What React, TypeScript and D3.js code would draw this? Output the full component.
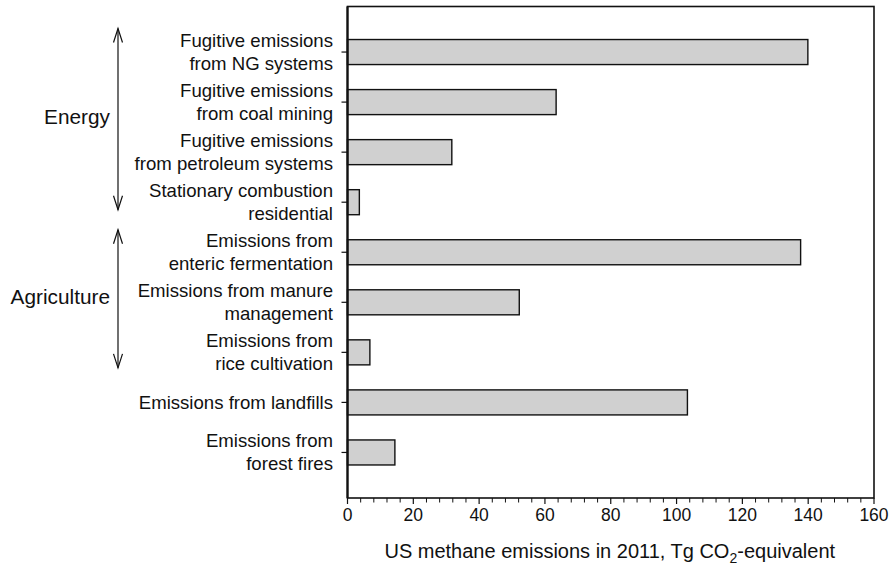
import React from "react";
import * as d3 from "d3";

const categoryLines: string[][] = [
  ["Fugitive emissions", "from NG systems"],
  ["Fugitive emissions", "from coal mining"],
  ["Fugitive emissions", "from petroleum systems"],
  ["Stationary combustion", "residential"],
  ["Emissions from", "enteric fermentation"],
  ["Emissions from manure", "management"],
  ["Emissions from", "rice cultivation"],
  ["Emissions from landfills"],
  ["Emissions from", "forest fires"],
];
const values: number[] = [139.9, 63.4, 31.7, 3.6, 137.7, 52.2, 6.8, 103.3, 14.4];
const xTicks: number[] = [0, 20, 40, 60, 80, 100, 120, 140, 160];
const groupNames: string[] = ["Energy", "Agriculture"];
const groupStart: number[] = [-0.47, 3.55];
const groupEnd: number[] = [3.15, 6.31];

const W = 894;
const H = 570;
const left = 347.5;
const right = 874;
const top = 6.5;
const bottom = 498;
const font = "Liberation Sans, Arial, Helvetica, sans-serif";

export default function App() {
  const ids = categoryLines.map((_, i) => i);
  const x = d3.scaleLinear().domain([0, 160]).range([left, right]);
  const y = d3
    .scaleBand<number>()
    .domain(ids)
    .range([top, bottom])
    .paddingInner(0.5)
    .paddingOuter(0.66);
  const bw = y.bandwidth();
  const step = y.step();
  const yc = (i: number) => (y(i) as number) + bw / 2;
  const yIdx = d3
    .scaleLinear()
    .domain([0, 1])
    .range([yc(0), yc(0) + step]);
  const minor = d3.range(0, 161, 4).filter((v) => v % 20 !== 0);
  const lineGap = 23;

  return (
    <svg
      width={W}
      height={H}
      style={{ position: "absolute", left: 0, top: 0, background: "#fff" }}
      fontFamily={font}
    >
      {/* bars */}
      {values.map((v, i) => (
        <rect
          key={i}
          x={x(0)}
          y={y(i)}
          width={x(v) - x(0)}
          height={bw}
          fill="#d0d0d0"
          stroke="#111"
          strokeWidth={1.4}
        />
      ))}
      {/* frame */}
      <rect
        x={left}
        y={top}
        width={right - left}
        height={bottom - top}
        fill="none"
        stroke="#111"
        strokeWidth={1.6}
      />
      <line x1={left} x2={left} y1={top} y2={bottom} stroke="#111" strokeWidth={2.2} />
      {/* y ticks + labels */}
      {categoryLines.map((lines, i) => {
        const c = yc(i);
        const n = lines.length;
        return (
          <g key={i}>
            <line x1={left - 6} x2={left} y1={c} y2={c} stroke="#111" strokeWidth={1.2} />
            {lines.map((t, j) => (
              <text
                key={j}
                x={333}
                y={c + (j - (n - 1) / 2) * lineGap}
                dy="0.35em"
                textAnchor="end"
                fontSize={18.6}
                fill="#111"
              >
                {t}
              </text>
            ))}
          </g>
        );
      })}
      {/* x ticks */}
      {xTicks.map((t) => (
        <g key={t}>
          <line x1={x(t)} x2={x(t)} y1={bottom} y2={bottom + 6} stroke="#111" strokeWidth={1.2} />
          <text x={x(t)} y={521} textAnchor="middle" fontSize={17.5} fill="#111">
            {t}
          </text>
        </g>
      ))}
      {minor.map((t) => (
        <line key={t} x1={x(t)} x2={x(t)} y1={bottom} y2={bottom + 4.5} stroke="#111" strokeWidth={1} />
      ))}
      {/* x axis title */}
      <text x={(left + right) / 2 - 1} y={558} textAnchor="middle" fontSize={20} fill="#111">
        US methane emissions in 2011, Tg CO
        <tspan fontSize={14} dy={5}>2</tspan>
        <tspan dy={-5}>-equivalent</tspan>
      </text>
      {/* group arrows */}
      {groupNames.map((g, k) => {
        const y1 = yIdx(groupStart[k]);
        const y2 = yIdx(groupEnd[k]);
        const ax = 118;
        const ah = 14;
        const aw = 4.5;
        return (
          <g key={g} stroke="#111" strokeWidth={1.2} fill="none">
            <line x1={ax} x2={ax} y1={y1} y2={y2} />
            <polyline points={`${ax - aw},${y1 + ah} ${ax},${y1} ${ax + aw},${y1 + ah}`} />
            <polyline points={`${ax - aw},${y2 - ah} ${ax},${y2} ${ax + aw},${y2 - ah}`} />
            <text
              x={110}
              y={(y1 + y2) / 2 - 2}
              dy="0.35em"
              textAnchor="end"
              fontSize={20.8}
              fill="#111"
              stroke="none"
            >
              {g}
            </text>
          </g>
        );
      })}
    </svg>
  );
}
